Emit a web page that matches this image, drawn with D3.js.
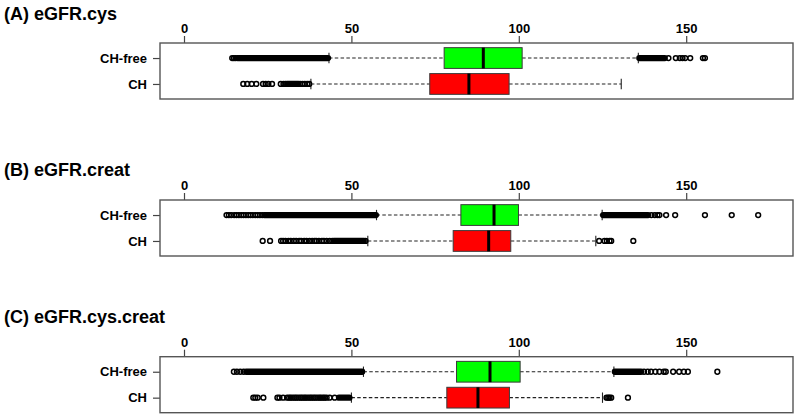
<!DOCTYPE html>
<html><head><meta charset="utf-8">
<script src="https://cdn.jsdelivr.net/npm/d3@7"></script>
<style>body{margin:0;background:#fff}svg{display:block}</style>
</head><body>
<script>
// ---- data ----
const panelTitles = ["(A) eGFR.cys", "(B) eGFR.creat", "(C) eGFR.cys.creat"];
const groups = ["CH-free", "CH"];
const tickValues = [0, 50, 100, 150];
// five-number summaries [lowWhisker, Q1, median, Q3, highWhisker]
const statsA = {"CH-free": [43.3, 77.7, 89.4, 101.0, 135.7], "CH": [37.9, 73.4, 85.1, 97.1, 130.6]};
const statsB = {"CH-free": [57.5, 82.7, 92.6, 99.9, 124.9], "CH": [54.9, 80.4, 91.0, 97.6, 123.0]};
const statsC = {"CH-free": [53.6, 81.4, 91.4, 100.4, 128.4], "CH": [50.0, 78.5, 87.8, 97.2, 125.0]};
// individually visible outliers
const outA_free = [14.4, 14.9, 15.4, 16.0, 144.7, 146.9, 148.1, 148.9, 149.7, 151.2, 155.0, 155.6];
const outA_ch = [17.7, 18.9, 20.2, 21.6, 23.6, 24.4, 25.2, 26.3, 28.9, 29.7, 30.3, 34.7, 35.4, 36.1, 36.8, 37.4];
const outB_free = [12.7, 13.4, 14.1, 15.0, 15.7, 16.4, 17.1, 17.8, 18.5, 19.2, 19.9, 20.6, 21.3, 22.0, 22.7, 23.4,
  139.6, 140.6, 141.4, 142.0, 144.0, 146.7, 155.6, 163.6, 171.5];
const outB_ch = [23.5, 25.7, 29.0, 29.6, 30.3, 31.2, 31.9, 32.8, 33.5, 34.4, 35.0, 35.9, 36.6, 37.5, 38.3, 39.0, 39.5, 40.3, 41.2, 41.8, 42.6, 43.5, 44.3, 54.2,
  124.0, 125.6, 126.3, 127.1, 127.6, 134.2];
const outC_free = [14.9, 15.8, 16.8, 17.8, 137.4, 138.5, 139.5, 140.8, 142.0, 143.3, 143.9, 146.1, 147.9, 149.3, 150.5, 159.3];
const outC_ch = [20.7, 21.3, 22.0, 23.7, 27.9, 28.5, 29.6, 30.8, 31.4, 31.9, 32.5, 33.1, 33.6, 34.2, 34.8, 35.3, 35.9, 36.4, 37.0, 37.6, 38.1, 38.7, 39.2, 39.8, 40.4, 40.9, 41.5, 42.0, 42.6, 43.5, 45.0,
  126.2, 126.7, 127.1, 127.6, 132.6];
// runs of outliers so dense they merge into a solid band [from, to]
const denseA_free = [[16.4, 43.0], [136.0, 143.6]];
const denseA_ch = [[30.8, 34.2]];
const denseB_free = [[24.0, 57.3], [125.2, 138.6]];
const denseB_ch = [[44.8, 53.7]];
const denseC_free = [[18.6, 53.2], [128.7, 136.5]];
const denseC_ch = [[46.3, 49.4]];

const panels = [
  {title: panelTitles[0], stats: statsA, out: {"CH-free": outA_free, "CH": outA_ch}, dense: {"CH-free": denseA_free, "CH": denseA_ch}, top: 43, titleY: 19.5},
  {title: panelTitles[1], stats: statsB, out: {"CH-free": outB_free, "CH": outB_ch}, dense: {"CH-free": denseB_free, "CH": denseB_ch}, top: 200, titleY: 176},
  {title: panelTitles[2], stats: statsC, out: {"CH-free": outC_free, "CH": outC_ch}, dense: {"CH-free": denseC_free, "CH": denseC_ch}, top: 356.7, titleY: 323}
];

const W = 800, H = 419;
const svg = d3.select("body").append("svg").attr("width", W).attr("height", H);
const font = "'Liberation Sans', Arial, sans-serif";
const left = 160, right = 793, frameH = 56;
const x = d3.scaleLinear().domain([-7.17, 181.9]).range([left, right]);
const colors = {"CH-free": "#00ff00", "CH": "#ff0000"};
const groupPos = {"CH-free": 2, "CH": 1};
const R = 2.4, SW = 1.5, OUT = R + SW / 2;

panels.forEach(p => {
  const g = svg.append("g");
  const y = d3.scaleLinear().domain([2.58, 0.42]).range([p.top, p.top + frameH]);
  const bw = (y(0.6) - y(1.4)) ; // box width 0.8 units
  g.append("text").attr("x", 4).attr("y", p.titleY).text(p.title)
    .attr("font-family", font).attr("font-weight", "bold").attr("font-size", 18).attr("fill", "#000");

  // top axis
  const ax = g.append("g").attr("transform", `translate(0,${p.top})`)
    .call(d3.axisTop(x).tickValues(tickValues).tickSize(7).tickSizeOuter(0).tickPadding(3));
  ax.select(".domain").remove();
  ax.selectAll("line").attr("stroke", "#444").attr("stroke-width", 1.2);
  ax.selectAll("text").attr("font-family", font).attr("font-weight", "bold").attr("font-size", 13).attr("fill", "#000");

  // left axis
  const yax = g.append("g").attr("transform", `translate(${left},0)`)
    .call(d3.axisLeft(y).tickValues(groups.map(k => groupPos[k])).tickFormat((d) => groups.find(k => groupPos[k] === d))
      .tickSize(7).tickSizeOuter(0).tickPadding(6));
  yax.select(".domain").remove();
  yax.selectAll("line").attr("stroke", "#444").attr("stroke-width", 1.2);
  yax.selectAll("text").attr("font-family", font).attr("font-weight", "bold").attr("font-size", 13).attr("fill", "#000");

  groups.forEach(k => {
    const s = p.stats[k];
    const cy = y(groupPos[k]);
    // whiskers
    g.append("line").attr("x1", x(s[0])).attr("x2", x(s[1])).attr("y1", cy).attr("y2", cy)
      .attr("stroke", "#222").attr("stroke-width", 1.1).attr("stroke-dasharray", "3.5,2.3");
    g.append("line").attr("x1", x(s[3])).attr("x2", x(s[4])).attr("y1", cy).attr("y2", cy)
      .attr("stroke", "#222").attr("stroke-width", 1.1).attr("stroke-dasharray", "3.5,2.3");
    [s[0], s[4]].forEach(v => {
      g.append("line").attr("x1", x(v)).attr("x2", x(v)).attr("y1", cy - bw / 4).attr("y2", cy + bw / 4)
        .attr("stroke", "#222").attr("stroke-width", 1.1);
    });
    // box
    g.append("rect").attr("x", x(s[1])).attr("y", cy - bw / 2).attr("width", x(s[3]) - x(s[1])).attr("height", bw)
      .attr("fill", colors[k]).attr("stroke", "#3a3a3a").attr("stroke-width", 1);
    g.append("line").attr("x1", x(s[2])).attr("x2", x(s[2])).attr("y1", cy - bw / 2).attr("y2", cy + bw / 2)
      .attr("stroke", "#000").attr("stroke-width", 3);
    // dense outlier runs
    g.selectAll(null).data(p.dense[k]).enter().append("rect")
      .attr("x", d => x(d[0]) - OUT).attr("width", d => x(d[1]) - x(d[0]) + 2 * OUT)
      .attr("y", cy - OUT).attr("height", 2 * OUT).attr("rx", OUT).attr("fill", "#000");
    // outliers
    g.selectAll(null).data(p.out[k]).enter().append("circle")
      .attr("cx", d => x(d)).attr("cy", cy).attr("r", R)
      .attr("fill", "none").attr("stroke", "#000").attr("stroke-width", SW);
  });

  // frame
  g.append("rect").attr("x", left).attr("y", p.top).attr("width", right - left).attr("height", frameH)
    .attr("fill", "none").attr("stroke", "#555").attr("stroke-width", 1.4);
});
</script>
</body></html>
